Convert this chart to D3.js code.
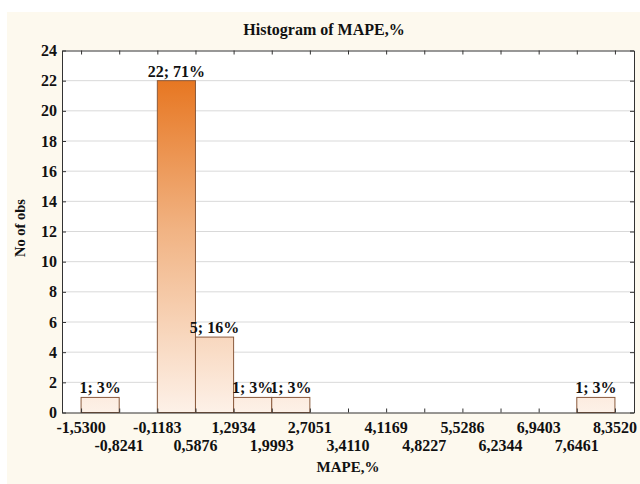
<!DOCTYPE html>
<html>
<head>
<meta charset="utf-8">
<script src="https://cdn.jsdelivr.net/npm/d3@7"></script>
<style>
  html, body { margin: 0; padding: 0; background: #ffffff; }
  svg { display: block; }
  text { font-family: "Liberation Serif", "Times New Roman", serif; font-weight: bold; fill: #111; }
</style>
</head>
<body>
<svg id="chart" width="640" height="484"></svg>
<script>
// Bin edges of MAPE,% and observation counts per bin
const binEdges = [-1.5300, -0.8241, -0.1183, 0.5876, 1.2934, 1.9993, 2.7051, 3.4110,
                  4.1169, 4.8227, 5.5286, 6.2344, 6.9403, 7.6461, 8.3520];
const edgeLabels = ["-1,5300", "-0,8241", "-0,1183", "0,5876", "1,2934", "1,9993", "2,7051", "3,4110",
                    "4,1169", "4,8227", "5,5286", "6,2344", "6,9403", "7,6461", "8,3520"];
const binCounts = [1, 0, 22, 5, 1, 1, 0, 0, 0, 0, 0, 0, 0, 1];
const yTicks = [0, 2, 4, 6, 8, 10, 12, 14, 16, 18, 20, 22, 24];

const total = d3.sum(binCounts);
const bins = binCounts.map((c, i) => ({ x0: binEdges[i], x1: binEdges[i + 1], count: c }));

const svg = d3.select("#chart");
const W = 640, H = 484;
const plot = { left: 62, right: 634, top: 50.5, bottom: 412.5 };

// Cream panel behind the graph
svg.append("rect").attr("x", 7).attr("y", 12).attr("width", W - 7).attr("height", H - 12)
  .attr("fill", "#fdf9ee");

const binW = binEdges[1] - binEdges[0];
const x = d3.scaleLinear()
  .domain([binEdges[0] - binW / 2, binEdges[binEdges.length - 1] + binW / 2])
  .range([plot.left, plot.right]);
const y = d3.scaleLinear().domain([0, 24]).range([plot.bottom, plot.top]);

// Plot area
svg.append("rect").attr("x", plot.left).attr("y", plot.top)
  .attr("width", plot.right - plot.left).attr("height", plot.bottom - plot.top)
  .attr("fill", "#ffffff");

// Horizontal grid
svg.append("g").selectAll("line").data(yTicks.filter(t => t > 0 && t < 24)).join("line")
  .attr("x1", plot.left).attr("x2", plot.right)
  .attr("y1", d => y(d)).attr("y2", d => y(d))
  .attr("stroke", "#d9d9d9").attr("stroke-width", 1);

// Bar fill: orange at the top fading to pale peach at the baseline
const defs = svg.append("defs");
const grad = defs.append("linearGradient").attr("id", "barGrad")
  .attr("gradientUnits", "userSpaceOnUse")
  .attr("x1", 0).attr("x2", 0).attr("y1", y(22)).attr("y2", y(0));
grad.append("stop").attr("offset", "0%").attr("stop-color", "#e77722");
grad.append("stop").attr("offset", "45%").attr("stop-color", "#f1b383");
grad.append("stop").attr("offset", "100%").attr("stop-color", "#fdf1e8");

const shown = bins.filter(b => b.count > 0);
svg.append("g").selectAll("rect").data(shown).join("rect")
  .attr("x", d => x(d.x0)).attr("y", d => y(d.count))
  .attr("width", d => x(d.x1) - x(d.x0)).attr("height", d => y(0) - y(d.count))
  .attr("fill", "url(#barGrad)").attr("stroke", "#8a5a3c").attr("stroke-width", 1);

// Count; percent labels above bars
svg.append("g").selectAll("text").data(shown).join("text")
  .attr("x", d => (x(d.x0) + x(d.x1)) / 2).attr("y", d => y(d.count) - 4)
  .attr("text-anchor", "middle").attr("font-size", 16)
  .text(d => `${d.count}; ${Math.round(d.count / total * 100)}%`);

// Frame with inward ticks on all four sides
const axisColor = "#333";
const bottomAxis = d3.axisBottom(x).tickValues(binEdges).tickSizeInner(-4).tickSizeOuter(0).tickFormat("");
const topAxis = d3.axisTop(x).tickValues(binEdges).tickSizeInner(-4).tickSizeOuter(0).tickFormat("");
const leftAxis = d3.axisLeft(y).tickValues(yTicks).tickSizeInner(-4).tickSizeOuter(0).tickFormat("");
const rightAxis = d3.axisRight(y).tickValues(yTicks).tickSizeInner(-4).tickSizeOuter(0).tickFormat("");
[[bottomAxis, `translate(0,${plot.bottom})`], [topAxis, `translate(0,${plot.top})`],
 [leftAxis, `translate(${plot.left},0)`], [rightAxis, `translate(${plot.right},0)`]]
  .forEach(([ax, tr]) => {
    const g = svg.append("g").attr("transform", tr).call(ax);
    g.selectAll("path, line").attr("stroke", axisColor).attr("stroke-width", 1);
  });

// Y tick labels
svg.append("g").selectAll("text").data(yTicks).join("text")
  .attr("x", plot.left - 5).attr("y", d => y(d) + 5.5)
  .attr("text-anchor", "end").attr("font-size", 16)
  .text(d => d);

// X tick labels in two staggered rows
svg.append("g").selectAll("text").data(binEdges).join("text")
  .attr("x", d => x(d)).attr("y", (d, i) => i % 2 === 0 ? 433 : 451)
  .attr("text-anchor", "middle").attr("font-size", 16)
  .text((d, i) => edgeLabels[i]);

// Titles
svg.append("text").attr("x", 324).attr("y", 35).attr("text-anchor", "middle")
  .attr("font-size", 16).text("Histogram of MAPE,%");
svg.append("text").attr("x", 348).attr("y", 472).attr("text-anchor", "middle")
  .attr("font-size", 15).text("MAPE,%");
svg.append("text").attr("transform", `translate(25,228) rotate(-90)`)
  .attr("text-anchor", "middle").attr("font-size", 14.5).text("No of obs");
</script>
</body>
</html>
